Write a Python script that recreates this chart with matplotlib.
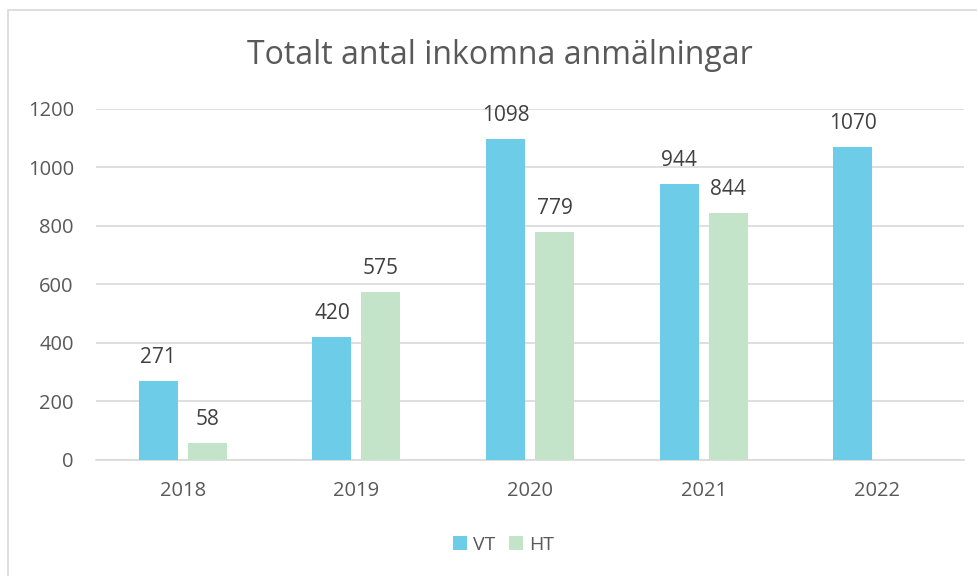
import numpy as np
import matplotlib.pyplot as plt
from matplotlib.patches import Rectangle

# Data
years = ['2018', '2019', '2020', '2021', '2022']
vt = [271, 420, 1098, 944, 1070]
ht = [58, 575, 779, 844, None]  # no HT value for 2022

vt_color = '#6DCDE8'
ht_color = '#C3E4C8'
text_color = '#595959'
grid_color = '#D9D9D9'

plt.rcParams['font.family'] = ['Open Sans', 'DejaVu Sans']

fig = plt.figure(figsize=(9.78, 5.76), dpi=100)
ax = fig.add_axes([0.0982, 0.2014, 0.8875, 0.6094])

# chart border (runs off the right and bottom edge in the reference)
fig.patches.append(Rectangle((8 / 978, -0.05), 1.1, 1 - 10 / 576 + 0.05,
                             transform=fig.transFigure, fill=False,
                             edgecolor=grid_color, linewidth=1.2))

x = np.arange(len(years))
width = 0.225
offset = 0.141

ht_x = [xi + offset for xi, v in zip(x, ht) if v is not None]
ht_v = [v for v in ht if v is not None]

bars_vt = ax.bar(x - offset, vt, width, color=vt_color, label='VT', zorder=3)
bars_ht = ax.bar(ht_x, ht_v, width, color=ht_color, label='HT', zorder=3)

for bars in (bars_vt, bars_ht):
    for b in bars:
        ax.annotate(f'{int(b.get_height())}',
                    (b.get_x() + b.get_width() / 2, b.get_height()),
                    xytext=(0, 9.5), textcoords='offset points',
                    ha='center', va='bottom', fontsize=15, color='#404040')

ax.set_xlim(-0.5, len(years) - 0.5)
ax.set_ylim(0, 1200)
ax.set_yticks(range(0, 1201, 200))
ax.set_xticks(x)
ax.set_xticklabels(years)
ax.tick_params(length=0, labelsize=14.5, colors=text_color)
ax.tick_params(axis='y', pad=16)
ax.tick_params(axis='x', pad=15)
ax.grid(axis='y', color=grid_color, linewidth=1.2, zorder=0)
for s in ('top', 'right', 'left'):
    ax.spines[s].set_visible(False)
ax.spines['bottom'].set_color(grid_color)
ax.spines['bottom'].set_linewidth(1.2)

fig.text(0.511, 0.903, 'Totalt antal inkomna anmälningar', ha='center', va='center',
         fontsize=23, color=text_color)

fig.legend(loc='center', bbox_to_anchor=(0.515, 0.054), ncol=2, frameon=False,
           fontsize=14, labelcolor=text_color, handlelength=0.72, handleheight=0.72,
           handletextpad=0.3, columnspacing=0.7)

fig.savefig('out.png', dpi=100)
